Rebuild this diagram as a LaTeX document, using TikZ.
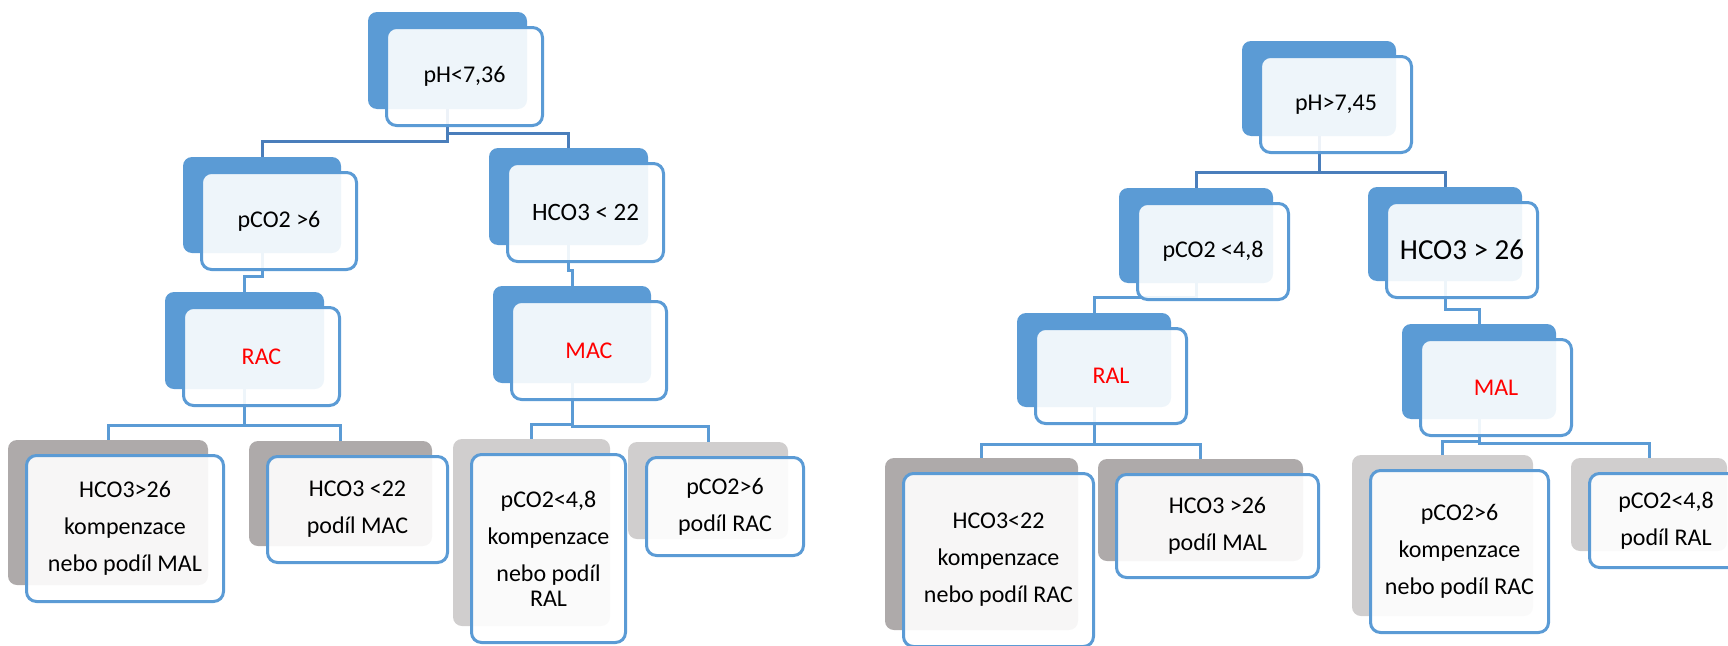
\documentclass[tikz,border=0pt]{standalone}
\usepackage{fontspec}
\setmainfont{Carlito}
\usetikzlibrary{fit}

\definecolor{boxblue}{HTML}{5B9BD5}
\definecolor{linkdark}{HTML}{4A7EBB}
\definecolor{greydark}{HTML}{AEAAAA}
\definecolor{greylight}{HTML}{D0CECE}

\pgfdeclarelayer{bg}
\pgfsetlayers{bg,main}

\tikzset{
  frontbox/.style={draw=boxblue, line width=3, rounded corners=10, fill=white,
    fill opacity=0.9, text opacity=1, align=center, inner sep=0,
    font=\fontsize{24}{25}\selectfont},
  backbox/.style={rounded corners=9, inner sep=0, outer sep=0},
  link/.style={draw=boxblue, line width=3},
  toplink/.style={draw=linkdark, line width=3},
}

\begin{document}
\begin{tikzpicture}[x=1pt, y=-1pt]
  \useasboundingbox (0,0) rectangle (1728,645);

  % acidoza
  \node [frontbox, minimum width=156, minimum height=98] (L0) at (464.5,76.5) {pH<7,36};
  \node [frontbox, minimum width=155, minimum height=97] (L1) at (279,221) {pCO2 >6};
  \node [frontbox, minimum width=156, minimum height=98, font=\fontsize{25}{26}\selectfont] (L2) at (585.5,212.5) {HCO3 < 22};
  \node [frontbox, minimum width=156, minimum height=98, text=red] (L3) at (261.5,356.5) {RAC};
  \node [frontbox, minimum width=155, minimum height=98, text=red] (L4) at (589,350.5) {MAC};
  \node [frontbox, minimum width=197, minimum height=146] (L5) at (125,528.5) {HCO3>26\\[12pt]kompenzace\\[12pt]nebo podíl MAL};
  \node [frontbox, minimum width=180, minimum height=106] (L6) at (357.5,509.5) {HCO3 <22\\[12pt]podíl MAC};
  \node [frontbox, minimum width=154, minimum height=188] (L7) at (548.5,548.5) {pCO2<4,8\\[12pt]kompenzace\\[12pt]nebo podíl\\RAL};
  \node [frontbox, minimum width=157, minimum height=98] (L8) at (725,506.5) {pCO2>6\\[12pt]podíl RAC};

  % alkaloza
  \node [frontbox, minimum width=151, minimum height=96] (R0) at (1336,104.5) {pH>7,45};
  \node [frontbox, minimum width=151, minimum height=96] (R1) at (1213,251.5) {pCO2 <4,8};
  \node [frontbox, minimum width=151, minimum height=95, font=\fontsize{29}{30}\selectfont] (R2) at (1462,250) {HCO3 > 26};
  \node [frontbox, minimum width=151, minimum height=95, text=red] (R3) at (1111,376) {RAL};
  \node [frontbox, minimum width=151, minimum height=96, text=red] (R4) at (1496,387.5) {MAL};
  \node [frontbox, minimum width=190, minimum height=173] (R5) at (998.5,560) {HCO3<22\\[12pt]kompenzace\\[12pt]nebo podíl RAC};
  \node [frontbox, minimum width=202, minimum height=103] (R6) at (1217.5,526) {HCO3 >26\\[12pt]podíl MAL};
  \node [frontbox, minimum width=178, minimum height=162] (R7) at (1459.5,551.5) {pCO2>6\\[12pt]kompenzace\\[12pt]nebo podíl RAC};
  \node [frontbox, minimum width=153, minimum height=94] (R8) at (1666,520.5) {pCO2<4,8\\[12pt]podíl RAL};

  \begin{pgfonlayer}{bg}
    \foreach \n/\c in {L0/boxblue, L1/boxblue, L2/boxblue, L3/boxblue, L4/boxblue,
      L5/greydark, L6/greydark, L7/greylight, L8/greylight,
      R0/boxblue, R1/boxblue, R2/boxblue, R3/boxblue, R4/boxblue,
      R5/greydark, R6/greydark, R7/greylight, R8/greylight}
      \node [backbox, fill=\c, fit={([shift={(-17,-14)}]\n.north west) ([shift={(-17,-18)}]\n.south east)}] (\n-b) {};

    \draw [toplink] (L0-b.south) -- ++(0,32) -| (L1-b.north);
    \draw [toplink] (L0-b.south) -- ++(0,24) -| (L2-b.north);
    \draw [link] (L1-b.south) -- ++(0,23) -| (L3-b.north);
    \draw [link] (L2-b.south) -- ++(0,25) -| (L4-b.north);
    \draw [link] (L3-b.south) -- ++(0,36) -| (L5-b.north);
    \draw [link] (L3-b.south) -- ++(0,36) -| (L6-b.north);
    \draw [link] (L4-b.south) -- ++(0,41.5) -| (L7-b.north);
    \draw [link] (L4-b.south) -- ++(0,43.5) -| (L8-b.north);

    \draw [toplink] (R0-b.south) -- ++(0,36.5) -| (R1-b.north);
    \draw [toplink] (R0-b.south) -- ++(0,36.5) -| (R2-b.north);
    \draw [link] (R1-b.south) -- ++(0,14.5) -| (R3-b.north);
    \draw [link] (R2-b.south) -- ++(0,28.5) -| (R4-b.north);
    \draw [link] (R3-b.south) -- ++(0,37.5) -| (R5-b.north);
    \draw [link] (R3-b.south) -- ++(0,37.5) -| (R6-b.north);
    \draw [link] (R4-b.south) -- ++(0,22.5) -| (R7-b.north);
    \draw [link] (R4-b.south) -- ++(0,24.5) -| (R8-b.north);
  \end{pgfonlayer}
\end{tikzpicture}
\end{document}
